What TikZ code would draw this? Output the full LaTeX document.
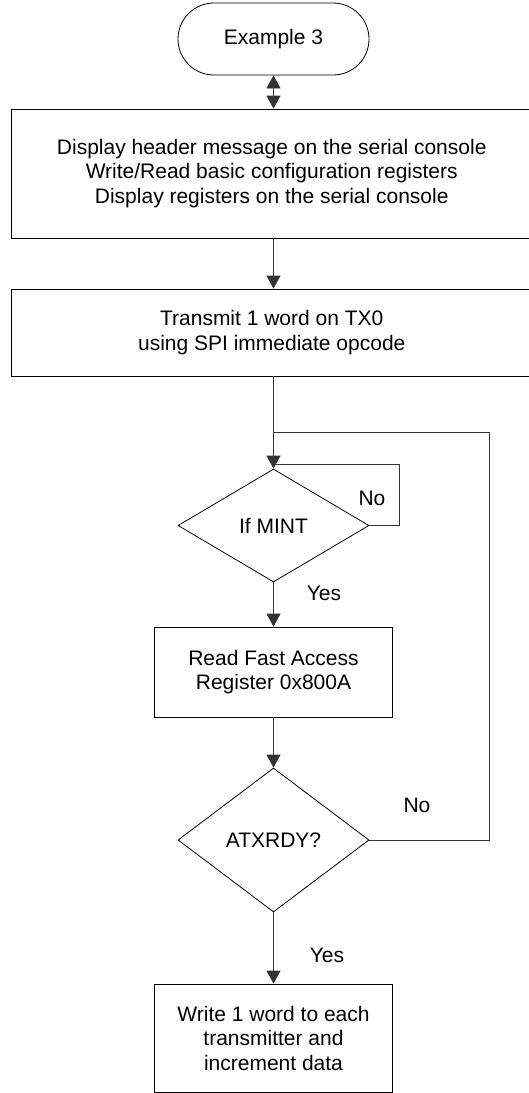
\documentclass[tikz,border=0pt]{standalone}
\usepackage{fontspec}
\setmainfont{Liberation Sans}
\usetikzlibrary{shapes.geometric,shapes.misc,arrows.meta}
\tikzset{
  wide/.style={draw, rectangle, minimum width=520.5, minimum height=#1, align=center, inner sep=0},
  block/.style={draw, rectangle, minimum width=238, minimum height=#1, align=center, inner sep=0},
  decision/.style={draw, diamond, minimum width=191, minimum height=#1, inner sep=0},
  tip/.style={Triangle[length=13pt,width=14pt]},
  arr/.style={-{Triangle[length=13pt,width=14pt]}},
  link/.style={draw=black!80},
}
\begin{document}
\begin{tikzpicture}[x=1pt,y=-1pt,font=\fontsize{21}{24.5}\selectfont,line width=0.8pt]
            \useasboundingbox (0,0) rectangle (528,1093);

            \node[draw, rounded rectangle, minimum width=191, minimum height=72, inner sep=0] (start) at (273.5,39) {Example 3};
            \node[wide=129] (setup) at (271.75,173.5) {Display header message on the serial console\\Write/Read basic configuration registers\\Display registers on the serial console};
            \node[wide=87] (transmit) at (271.75,332.5) {Transmit 1 word on TX0\\using SPI immediate opcode};
            \node[decision=113] (mint) at (273.5,525.5) {If MINT};
            \node[block=90] (read) at (273.5,672) {Read Fast Access\\Register 0x800A};
            \node[decision=144] (atx) at (273.5,840) {ATXRDY?};
            \node[block=108] (write) at (273.5,1038) {Write 1 word to each\\transmitter and\\increment data};

            \coordinate (mloop) at (399,464);
            \coordinate (aloop) at (489,432);

            \draw[link, {Triangle[length=13pt,width=14pt]}-{Triangle[length=13pt,width=14pt]}] (start) -- (start.south |- setup.north);
            \draw[link, arr] (start.south |- setup.south) -- (start.south |- transmit.north);
            \draw[link, arr] (start.south |- transmit.south) -- (mint.north);
            \draw[link] (mint.east) -| (mloop) -- (mloop -| mint.north);
            \draw[link] (atx.east) -| (aloop) -- (aloop -| mint.north);
            \draw[link, arr] (mint.south) -- (read.north);
            \draw[link, arr] (read.south) -- (atx.north);
            \draw[link, arr] (atx.south) -- (write.north);

            \node (mno) at (372,498) {No};
            \node (myes) at (324,593) {Yes};
            \node (ano) at (417,805) {No};
            \node (ayes) at (327,955) {Yes};
        \end{tikzpicture}
\end{document}
